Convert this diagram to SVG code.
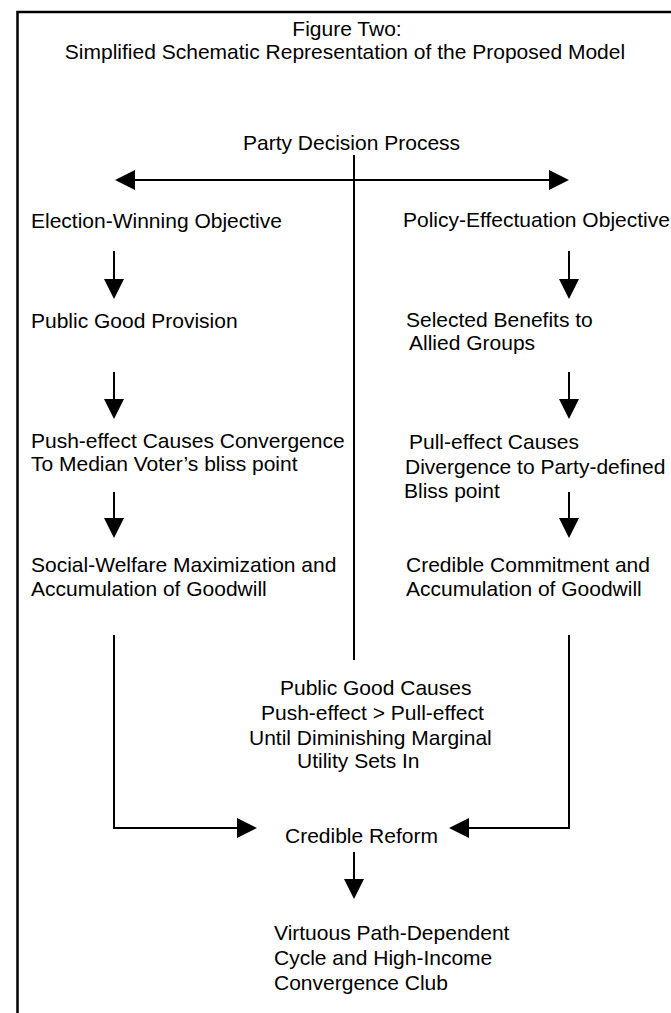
<svg xmlns="http://www.w3.org/2000/svg" width="671" height="1013" viewBox="0 0 671 1013">
<style>
text{font-family:"Liberation Sans",Arial,sans-serif;font-size:21px;fill:#000}
.ln{stroke:#000;stroke-width:2;fill:none}
.frame{stroke:#000;stroke-width:2.5;fill:none}
</style>
<defs>
<marker id="ah" markerUnits="userSpaceOnUse" markerWidth="20" markerHeight="20" refX="0" refY="10" orient="auto-start-reverse" viewBox="0 0 20 20">
<path d="M0,0 L20,10 L0,20 z" fill="#000"/>
</marker>
</defs>
<rect width="671" height="1013" fill="#fff"/>
<path class="frame" d="M17.5,1013 V12 H671"/>
<g id="title">
<text x="347" y="36" text-anchor="middle">Figure Two:</text>
<text x="345" y="59" text-anchor="middle">Simplified Schematic Representation of the Proposed Model</text>
</g>
<g id="party"><text x="243" y="150">Party Decision Process</text></g>
<g id="election"><text x="31" y="228">Election-Winning Objective</text></g>
<g id="policy"><text x="403" y="227">Policy-Effectuation Objective</text></g>
<g id="publicgood"><text x="31" y="328">Public Good Provision</text></g>
<g id="selected"><text x="406" y="327">Selected Benefits to</text><text x="409" y="350">Allied Groups</text></g>
<g id="push"><text x="31" y="448">Push-effect Causes Convergence</text><text x="31" y="471">To Median Voter’s bliss point</text></g>
<g id="pull"><text x="409" y="449">Pull-effect Causes</text><text x="405" y="474">Divergence to Party-defined</text><text x="404" y="498">Bliss point</text></g>
<g id="social"><text x="31" y="572">Social-Welfare Maximization and</text><text x="31" y="596">Accumulation of Goodwill</text></g>
<g id="credible-commitment"><text x="406" y="572">Credible Commitment and</text><text x="406" y="596">Accumulation of Goodwill</text></g>
<g id="public-good-causes"><text x="280" y="695">Public Good Causes</text><text x="261" y="720">Push-effect &gt; Pull-effect</text><text x="249" y="745">Until Diminishing Marginal</text><text x="297" y="768">Utility Sets In</text></g>
<g id="credible-reform"><text x="285" y="843">Credible Reform</text></g>
<g id="virtuous"><text x="274" y="940">Virtuous Path-Dependent</text><text x="274" y="965">Cycle and High-Income</text><text x="274" y="990">Convergence Club</text></g>
<g id="connectors">
<line class="ln" x1="135" y1="180" x2="549" y2="180" marker-start="url(#ah)" marker-end="url(#ah)"/>
<line class="ln" x1="354" y1="155" x2="354" y2="660"/>
<line class="ln" x1="114" y1="251" x2="114" y2="279" marker-end="url(#ah)"/>
<line class="ln" x1="114" y1="372" x2="114" y2="399" marker-end="url(#ah)"/>
<line class="ln" x1="114" y1="492" x2="114" y2="518" marker-end="url(#ah)"/>
<line class="ln" x1="569" y1="251" x2="569" y2="279" marker-end="url(#ah)"/>
<line class="ln" x1="569" y1="372" x2="569" y2="399" marker-end="url(#ah)"/>
<line class="ln" x1="569" y1="492" x2="569" y2="518" marker-end="url(#ah)"/>
<polyline class="ln" points="114,635 114,828 237,828" marker-end="url(#ah)"/>
<polyline class="ln" points="569,635 569,828 469,828" marker-end="url(#ah)"/>
<line class="ln" x1="354" y1="852" x2="354" y2="879" marker-end="url(#ah)"/>
</g>
</svg>
